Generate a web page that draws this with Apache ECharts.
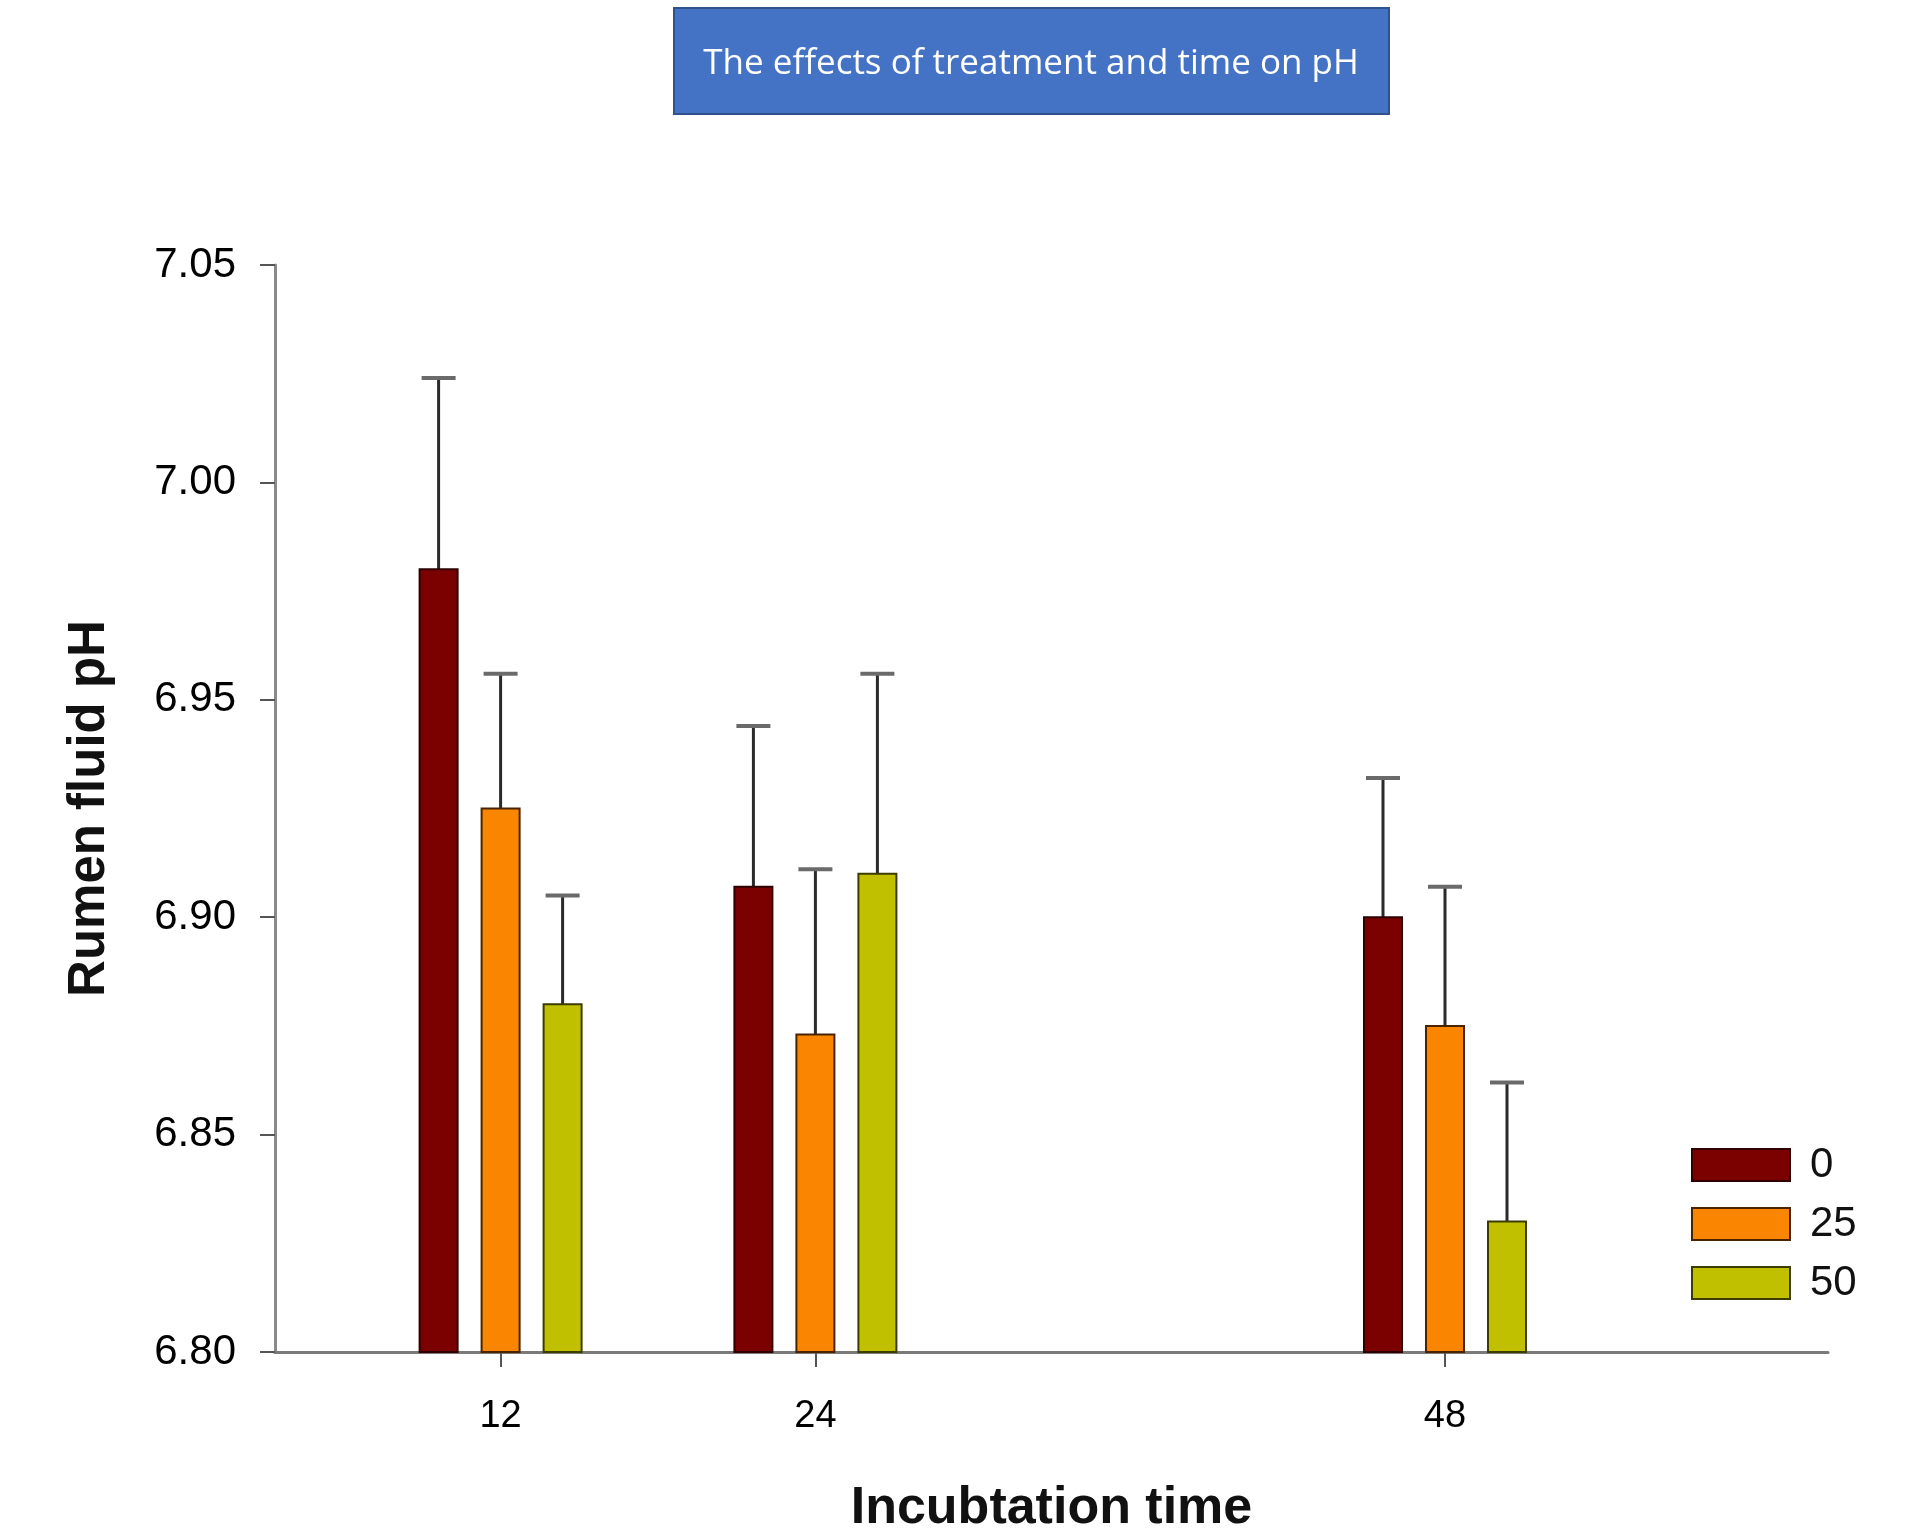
<!DOCTYPE html>
<html>
<head>
<meta charset="utf-8">
<script src="https://cdn.jsdelivr.net/npm/echarts@6/dist/echarts.min.js"></script>
<style>html,body{margin:0;padding:0;background:#fff}#chart{width:1915px;height:1535px}</style>
</head>
<body>
<div id="chart"></div>
<script>
// ---- data ----
const titleText = 'The effects of treatment and time on pH';
const times = [12, 24, 48];
const treatments = ['0', '25', '50'];
const mean0  = [6.980, 6.907, 6.900];
const mean25 = [6.925, 6.873, 6.875];
const mean50 = [6.880, 6.910, 6.830];
const err0  = [0.044, 0.037, 0.032];
const err25 = [0.031, 0.038, 0.032];
const err50 = [0.025, 0.046, 0.032];
const yTicks = [6.80, 6.85, 6.90, 6.95, 7.00, 7.05];

const fills   = ['#7B0000', '#F98500', '#C0C000'];
const borders = ['#2e0000', '#4a2400', '#3c3c00'];
const offsets = [-62, 0, 62];
const BAR_W = 38;
const Y_MIN = yTicks[0];

function render(offsetPx) {
  return function (params, api) {
    const x = api.value(0), v = api.value(1), e = api.value(2);
    const base = api.coord([x, Y_MIN]);
    const top = api.coord([x, v]);
    const et = api.coord([x, v + e]);
    const cx = top[0] + offsetPx;
    return {
      type: 'group',
      children: [
        { type: 'line', shape: { x1: cx, y1: top[1], x2: cx, y2: et[1] }, style: { stroke: '#2a2a2a', lineWidth: 3 } },
        { type: 'line', shape: { x1: cx - 17, y1: et[1], x2: cx + 17, y2: et[1] }, style: { stroke: '#6a6a6a', lineWidth: 4 } },
        { type: 'rect', shape: { x: cx - BAR_W / 2, y: top[1], width: BAR_W, height: base[1] - top[1] },
          style: { fill: api.visual('color'), stroke: borders[params.seriesIndex], lineWidth: 2 } }
      ]
    };
  };
}

const means = [mean0, mean25, mean50];
const errs = [err0, err25, err50];
const series = treatments.map((t, i) => ({
  type: 'custom',
  name: t,
  renderItem: render(offsets[i]),
  itemStyle: { color: fills[i], borderColor: borders[i], borderWidth: 2 },
  encode: { x: 0, y: 1 },
  data: times.map((tm, j) => [tm, means[i][j], errs[i][j]]),
  z: 2
}));

const chart = echarts.init(document.getElementById('chart'), null, { renderer: 'canvas' });
const FONT = '"Liberation Sans", Arial, sans-serif';
chart.setOption({
  animation: false,
  backgroundColor: '#ffffff',
  grid: { left: 275, right: 87, top: 265, bottom: 183, containLabel: false, outerBoundsMode: 'none' },
  graphic: [
    { type: 'rect', shape: { x: 674, y: 8, width: 715, height: 106 },
      style: { fill: '#4472C4', stroke: '#2F528F', lineWidth: 2 }, z: 10 },
    { type: 'text', x: 1031, y: 64, z: 11,
      style: { text: titleText, fill: '#ffffff', font: '35px "Open Sans", sans-serif', textAlign: 'center', textVerticalAlign: 'middle' } }
  ],
  legend: {
    orient: 'vertical',
    left: 1686, top: 1139,
    itemWidth: 98, itemHeight: 32, itemGap: 17,
    icon: 'rect',
    textStyle: { fontSize: 42, color: '#111', fontFamily: FONT, padding: [0, 0, 0, 15] },
    data: treatments.map((t, i) => ({ name: t, itemStyle: { color: fills[i], borderColor: borders[i], borderWidth: 2 } }))
  },
  xAxis: {
    type: 'value',
    min: 3.4, max: 62.6,
    name: 'Incubtation time',
    nameLocation: 'middle',
    nameGap: 131,
    nameTextStyle: { fontSize: 52, fontWeight: 'bold', color: '#111', fontFamily: FONT },
    splitLine: { show: false },
    axisLine: { lineStyle: { color: '#7a7a7a', width: 3 } },
    axisTick: { customValues: times, length: 15, lineStyle: { color: '#555', width: 2 } },
    axisLabel: { customValues: times, fontSize: 38, color: '#000', margin: 46, fontFamily: FONT }
  },
  yAxis: {
    type: 'value',
    min: 6.80, max: 7.05, interval: 0.05,
    name: 'Rumen fluid pH',
    nameLocation: 'middle',
    nameGap: 160,
    nameRotate: 90,
    nameTextStyle: { fontSize: 51, fontWeight: 'bold', color: '#111', fontFamily: FONT },
    splitLine: { show: false },
    axisLine: { show: true, lineStyle: { color: '#8a8a8a', width: 3 } },
    axisTick: { show: true, length: 15, lineStyle: { color: '#555', width: 2 } },
    axisLabel: { fontSize: 42, color: '#000', margin: 39, fontFamily: FONT, formatter: v => v.toFixed(2) }
  },
  series: series
});
</script>
</body>
</html>
